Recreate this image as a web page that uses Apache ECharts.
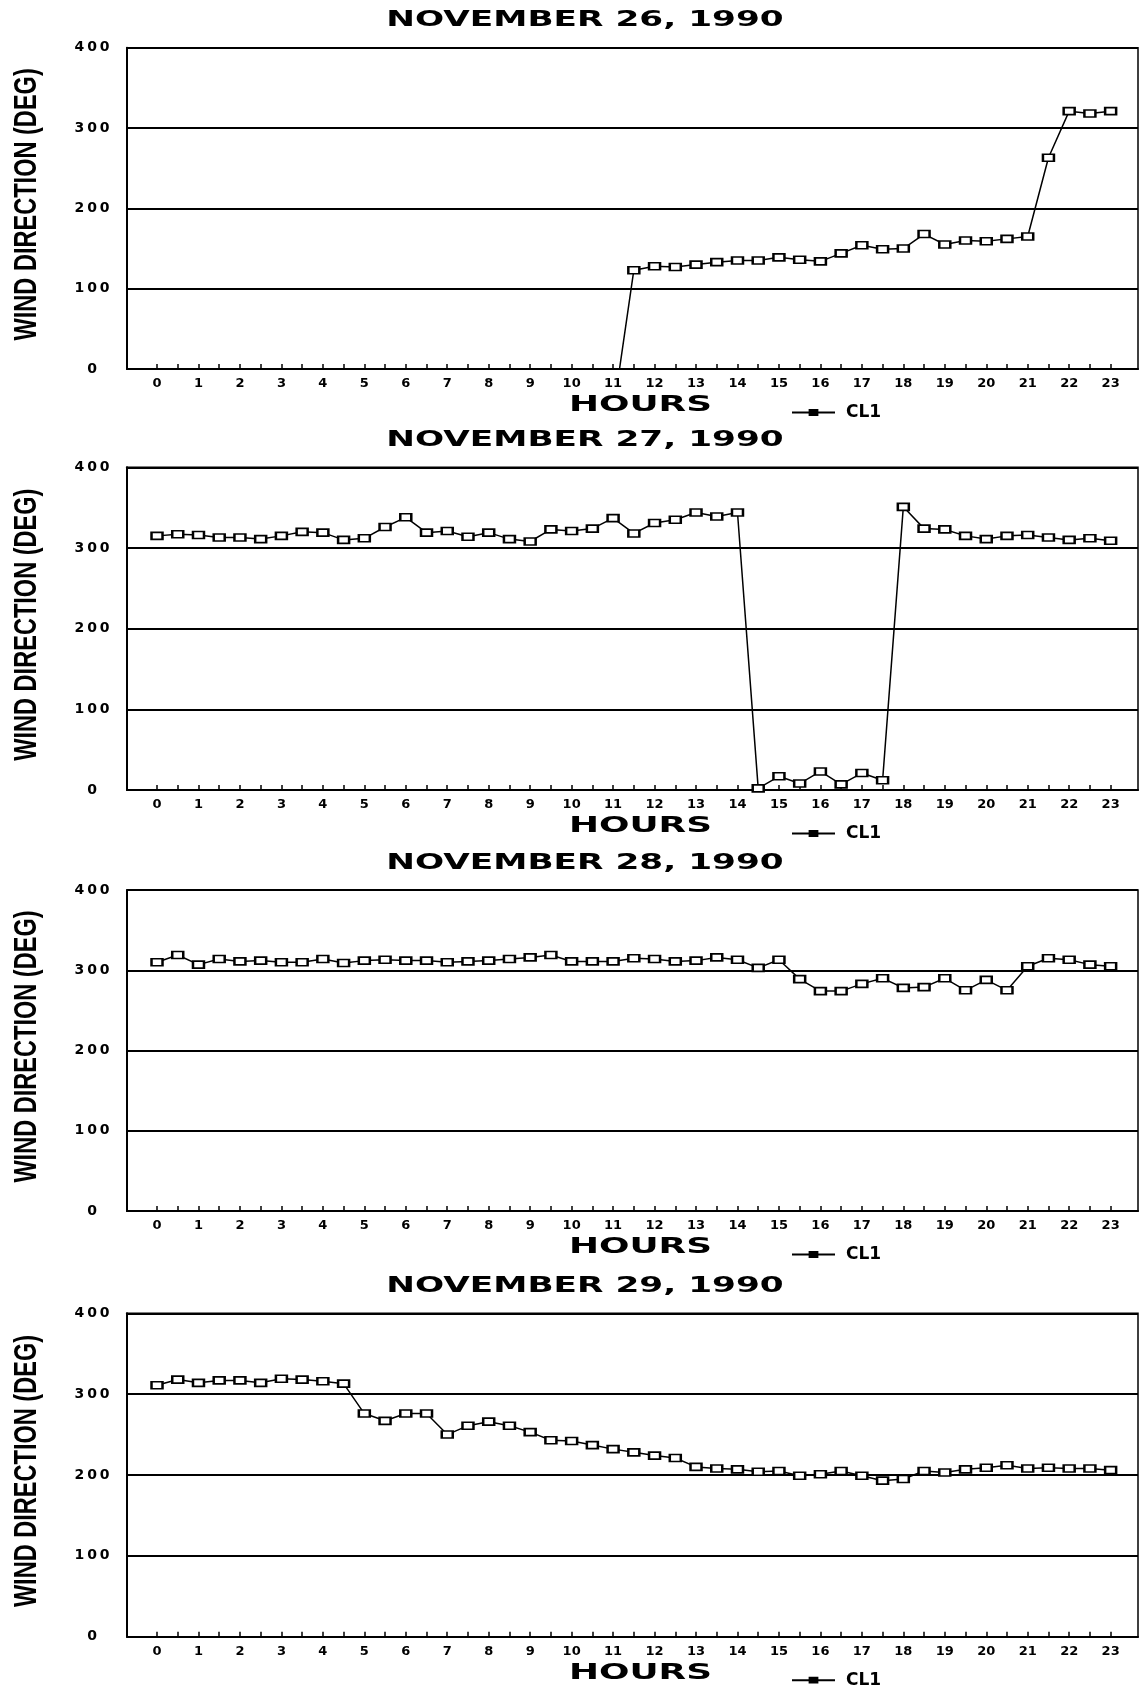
<!DOCTYPE html>
<html>
<head>
<meta charset="utf-8">
<script src="https://cdn.jsdelivr.net/npm/echarts@6/dist/echarts.min.js"></script>
<style>
html,body{margin:0;padding:0;background:#fff;}
#chart{width:1139px;height:1691px;}
</style>
</head>
<body>
<div id="chart"></div>
<script>
// ---- data ----
const hours = [0,0.5,1,1.5,2,2.5,3,3.5,4,4.5,5,5.5,6,6.5,7,7.5,8,8.5,9,9.5,10,10.5,11,11.5,12,12.5,13,13.5,14,14.5,15,15.5,16,16.5,17,17.5,18,18.5,19,19.5,20,20.5,21,21.5,22,22.5,23];
const hourLabels = [0,1,2,3,4,5,6,7,8,9,10,11,12,13,14,15,16,17,18,19,20,21,22,23];
const yTicks = [0,100,200,300,400];
const titles = ['NOVEMBER 26, 1990','NOVEMBER 27, 1990','NOVEMBER 28, 1990','NOVEMBER 29, 1990'];
const seriesName = 'CL1';
const xName = 'HOURS';
const yName = 'WIND DIRECTION (DEG)';

const nov26 = [null,null,null,null,null,null,null,null,null,null,null,null,null,null,null,null,null,null,null,null,null,null,
  -55,123,128,127,130,133,135,135,139,136,134,144,154,149,150,168,155,160,159,162,165,263,321,318,321];
const nov27 = [315,317,316,313,313,311,315,320,319,310,312,326,338,319,321,314,319,311,308,323,321,324,337,318,
  331,335,344,339,344,2,17,8,23,7,21,12,351,324,323,315,311,315,316,313,310,312,309];
const nov28 = [310,319,307,314,311,312,310,310,314,309,312,313,312,312,310,311,312,314,316,319,311,311,311,315,
  314,311,312,316,313,303,313,289,274,274,283,290,278,279,290,275,288,275,305,315,313,307,305];
const nov29 = [311,318,314,317,317,314,319,318,316,313,276,267,276,276,250,261,266,261,253,243,242,237,232,228,
  224,221,210,208,207,204,205,199,201,205,199,193,195,205,203,207,209,212,208,209,208,208,206];
const days = [nov26, nov27, nov28, nov29];

// ---- layout ----
const gridLeft = 127, gridWidth = 1011;
const panelTops = [47.7, 467.3, 890, 1313.3];
const panelHeights = [321.3, 322.7, 321, 323.4];
const xMin = -0.724, xMax = 23.66;
const wideFont = '"DejaVu Sans", Verdana, sans-serif';
const narrowFont = '"Liberation Sans", Arial, sans-serif';

const grids = [], xAxes = [], yAxes = [], series = [], legends = [], graphics = [];
days.forEach((vals, i) => {
  const top = panelTops[i], h = panelHeights[i], bottom = top + h;
  grids.push({left: gridLeft, top: top, width: gridWidth, height: h, show: true,
    borderColor: '#000', borderWidth: 1.5, backgroundColor: 'transparent'});
  xAxes.push({type: 'value', gridIndex: i, min: xMin, max: xMax,
    axisLine: {show: true, onZero: false, lineStyle: {color: '#000', width: 2}},
    axisTick: {show: true, inside: true, length: 5, customValues: hours, lineStyle: {color: '#000', width: 1.5}},
    axisLabel: {show: true, customValues: hourLabels, margin: 8, color: '#000',
      fontFamily: wideFont, fontWeight: 'bold', fontSize: 13},
    splitLine: {show: false}});
  yAxes.push({type: 'value', gridIndex: i, min: 0, max: 400, interval: 100,
    axisLine: {show: true, onZero: false, lineStyle: {color: '#000', width: 2}},
    axisTick: {show: false},
    axisLabel: {show: true, margin: 35, align: 'center', color: '#000',
      fontFamily: wideFont, fontWeight: 'bold', fontSize: 14,
      formatter: v => String(v).split('').join('\u2009')},
    splitLine: {show: true, lineStyle: {color: '#000', width: 2}}});
  series.push({type: 'line', name: seriesName, xAxisIndex: i, yAxisIndex: i,
    data: hours.map((hr, k) => [hr, vals[k]]),
    connectNulls: false, clip: true,
    symbol: 'rect', symbolSize: [11, 7], showAllSymbol: true,
    itemStyle: {color: '#fff', borderColor: '#000', borderWidth: 2},
    lineStyle: {color: '#000', width: 1.5},
    emphasis: {disabled: true}, animation: false});
  legends.push({show: true, left: 787, top: bottom + 30, orient: 'horizontal',
    itemWidth: 43, itemHeight: 9, selectedMode: false,
    data: [{name: seriesName,
      icon: 'path://M0,4L44,4L44,6L0,6ZM17,1.5L27,1.5L27,8.5L17,8.5Z',
      itemStyle: {color: '#000', borderWidth: 0}}],
    textStyle: {color: '#000', fontFamily: wideFont, fontWeight: 'bold', fontSize: 17, padding: [0, 0, 0, 6]}});
  graphics.push({type: 'text', x: 585, y: top - 27, scaleX: 1.56,
    style: {text: titles[i], fontFamily: wideFont, fontWeight: 'bold', fontSize: 22, fill: '#000',
      align: 'center', verticalAlign: 'middle', textAlign: 'center', textVerticalAlign: 'middle'}});
  graphics.push({type: 'text', x: 640.5, y: bottom + 36.5, scaleX: 1.75,
    style: {text: xName, fontFamily: wideFont, fontWeight: 'bold', fontSize: 20.5, fill: '#000',
      align: 'center', verticalAlign: 'middle', textAlign: 'center', textVerticalAlign: 'middle'}});
  graphics.push({type: 'text', x: 27, y: top + h / 2 - 4, rotation: Math.PI / 2, scaleX: 0.76,
    style: {text: yName, fontFamily: narrowFont, fontWeight: 'bold', fontSize: 31, fill: '#000',
      align: 'center', verticalAlign: 'middle', textAlign: 'center', textVerticalAlign: 'middle'}});
});

const chart = echarts.init(document.getElementById('chart'), null, {renderer: 'canvas'});
chart.setOption({
  animation: false,
  backgroundColor: '#fff',
  grid: grids, xAxis: xAxes, yAxis: yAxes, series: series, legend: legends,
  graphic: graphics
});
</script>
</body>
</html>
